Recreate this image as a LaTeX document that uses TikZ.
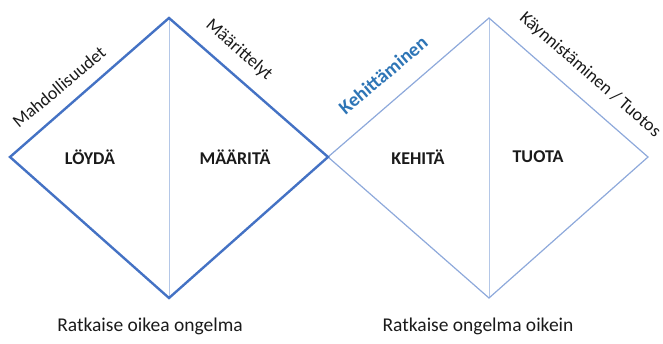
\documentclass[tikz,border=0pt]{standalone}
\usepackage{fontspec}
\setmainfont{Carlito}
\definecolor{darkblue}{HTML}{4472C4}
\definecolor{lightblue}{HTML}{8EA9DB}
\definecolor{paleblue}{HTML}{B4C7E7}
\definecolor{textblue}{HTML}{2E75B6}
\definecolor{txt}{HTML}{1A1A1A}
\begin{document}
\begin{tikzpicture}[x=1pt,y=1pt,
  bold label/.style={font=\fontsize{18}{20}\selectfont\bfseries, text=txt},
  edge label/.style={font=\fontsize{18}{20}\selectfont, text=txt, inner sep=0pt},
  bottom label/.style={font=\fontsize{19.5}{22}\selectfont, text=txt},
  strong/.style={draw=darkblue, line width=2.4pt, line join=miter},
  weak/.style={draw=lightblue, line width=1.2pt},
  divider/.style={draw=paleblue, line width=1pt}]
\useasboundingbox (0,0) rectangle (663,343);
% diamond 1
\coordinate (t1) at (169,325);
\coordinate (l1) at (10,186);
\coordinate (r1) at (328,186);
\coordinate (b1) at (169,45);
% diamond 2
\coordinate (t2) at (489,325);
\coordinate (r2) at (648,186);
\coordinate (b2) at (489,45);
\draw[divider] (t1) -- (b1);
\draw[divider] (t2) -- (b2);
\draw[weak] (r1) -- (t2) -- (r2) -- (b2) -- cycle;
\draw[strong] (t1) -- (r1) -- (b1) -- (l1) -- cycle;
\node[bold label] (loyda) at (90,186) {LÖYDÄ};
\node[bold label] (maarita) at (235,186) {MÄÄRITÄ};
\node[bold label] (kehita) at (418,186) {KEHITÄ};
\node[bold label] (tuota) at (538,186) {TUOTA};
\node[edge label, rotate=40] (mahd) at (59,256) {Mahdollisuudet};
\node[edge label, rotate=-41] (maar) at (239,293) {Määrittelyt};
\node[edge label, rotate=40, text=textblue, font=\fontsize{19.5}{22}\selectfont\bfseries] (keh) at (383,268) {Kehittäminen};
\node[edge label, rotate=-41] (kayn) at (590,268) {Käynnistäminen / Tuotos};
\node[bottom label] (r1lab) at (150,17) {Ratkaise oikea ongelma};
\node[bottom label] (r2lab) at (478,17) {Ratkaise ongelma oikein};
\end{tikzpicture}
\end{document}
